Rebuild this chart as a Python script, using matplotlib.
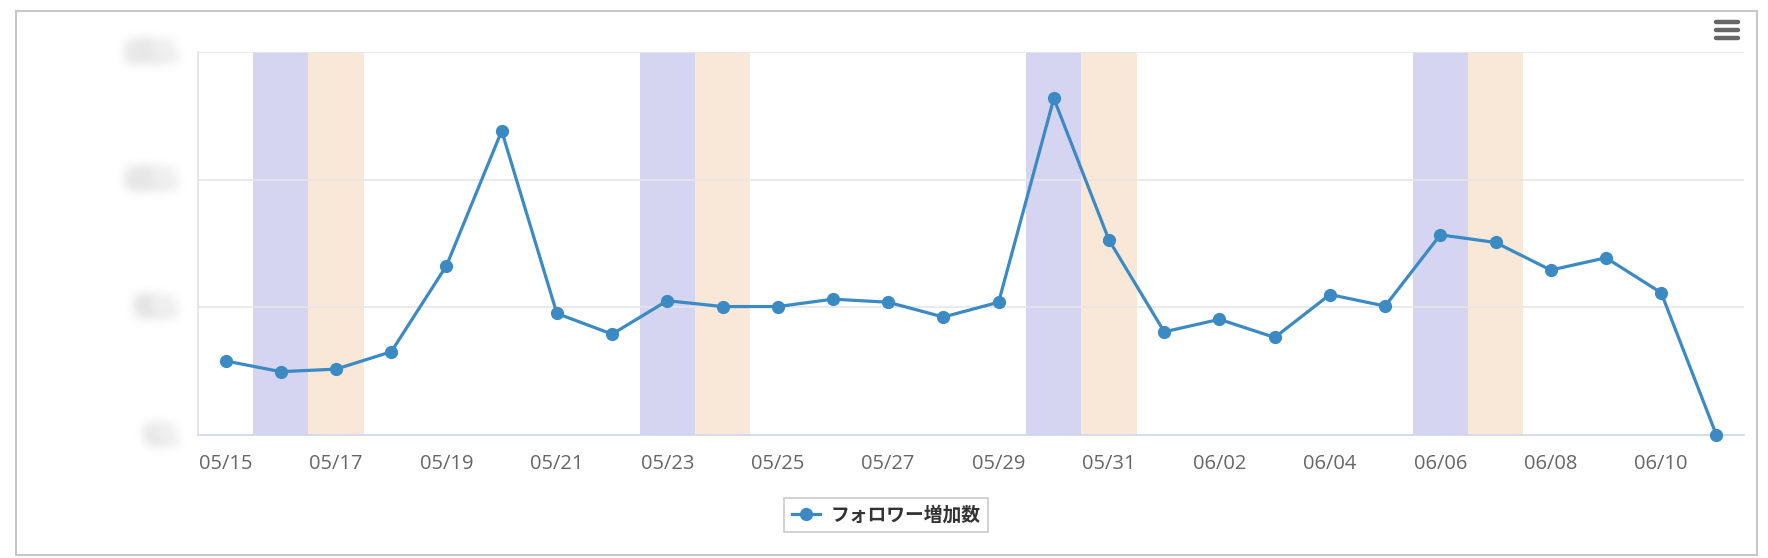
import numpy as np
import matplotlib
matplotlib.use("Agg")
import matplotlib.pyplot as plt
from matplotlib.patches import Rectangle
from matplotlib.lines import Line2D

# ─────────────────────────────────────────
# data
# ─────────────────────────────────────────
dates = ["05/15", "05/16", "05/17", "05/18", "05/19", "05/20", "05/21",
         "05/22", "05/23", "05/24", "05/25", "05/26", "05/27", "05/28",
         "05/29", "05/30", "05/31", "06/01", "06/02", "06/03", "06/04",
         "06/05", "06/06", "06/07", "06/08", "06/09", "06/10", "06/11"]
followers = [29.0, 24.8, 25.8, 32.6, 66.3, 119.1, 47.6,
             39.5, 52.6, 50.3, 50.3, 53.2, 52.0, 46.2,
             52.0, 131.8, 76.3, 40.4, 45.3, 38.2, 55.0,
             50.5, 78.4, 75.4, 64.6, 69.4, 55.7, 0.0]
saturdays = ["05/16", "05/23", "05/30", "06/06"]
sundays = ["05/17", "05/24", "05/31", "06/07"]
y_ticks = [0, 50, 100, 150]
y_labels = ["0人", "50人", "100人", "150人"]
series_name = "フォロワー増加数"

LINE = "#3b8ac3"
SAT = "#d5d4f1"
SUN = "#f9e8d8"
GRID = "#e6e6e6"


def gaussian_blur(sigma_px):
    # agg filter: blur the rendered text so the labels look smudged
    def _filter(im, dpi):
        pad = int(3 * sigma_px) + 1
        src = np.pad(im, [(pad, pad), (pad, pad), (0, 0)], "constant")
        r = np.arange(-pad, pad + 1)
        k = np.exp(-0.5 * (r / sigma_px) ** 2)
        k /= k.sum()
        out = np.apply_along_axis(lambda v: np.convolve(v, k, mode="same"), 0, src)
        out = np.apply_along_axis(lambda v: np.convolve(v, k, mode="same"), 1, out)
        return out, -pad, -pad
    return _filter


fig = plt.figure(figsize=(17.68, 5.58), dpi=100)
fig.patch.set_facecolor("white")
ax = fig.add_axes([198 / 1768, 1 - 435 / 558, (1744 - 198) / 1768, (435 - 52) / 558])

x = np.arange(len(dates))

# weekend bands
for d in saturdays:
    i = dates.index(d)
    ax.axvspan(i - 0.5, i + 0.5, color=SAT, lw=0, zorder=0)
for d in sundays:
    i = dates.index(d)
    ax.axvspan(i - 0.5, i + 0.5, color=SUN, lw=0, zorder=0)

for yv in y_ticks[1:]:
    ax.axhline(yv, color=GRID, lw=1.2, zorder=0.5)

ax.plot(x, followers, "o-", color=LINE, lw=2.3, markersize=8.5,
        label=series_name, zorder=3, clip_on=False)

ax.set_xlim(-0.5, len(dates) - 0.5)
ax.set_ylim(0, 150)
ax.set_xticks(x[::2])
ax.set_xticklabels(dates[::2], family="Open Sans", fontsize=14.5, color="#666666")
ax.tick_params(axis="x", length=0, pad=14)
ax.set_yticks([])

for s in ["top", "right"]:
    ax.spines[s].set_visible(False)
ax.spines["bottom"].set_color("#ccd6eb")
ax.spines["bottom"].set_linewidth(1.2)
ax.spines["left"].set_color("#e0e0ee")
ax.spines["left"].set_linewidth(1.2)

# blurred y labels
for yv, lab in zip(y_ticks, y_labels):
    t = ax.text(-0.9, yv, lab, ha="right", va="center", fontsize=13.5,
                color="#666666", family=["Noto Sans CJK JP", "DejaVu Sans"],
                transform=ax.transData)
    t.set_agg_filter(gaussian_blur(6.5))

leg = ax.legend(loc="center", bbox_to_anchor=(886 / 1768, 1 - 515 / 558),
                bbox_transform=fig.transFigure, frameon=True, fancybox=False,
                edgecolor="#bdbdbd", handlelength=1.5, borderpad=0.42,
                handletextpad=0.55,
                prop={"family": ["Noto Sans CJK JP", "DejaVu Sans"],
                      "weight": "bold", "size": 13.5})
leg.get_frame().set_linewidth(1.2)
for txt in leg.get_texts():
    txt.set_color("#333333")

# outer frame
fig.patches.append(Rectangle((16 / 1768, 3 / 558), 1741 / 1768, 544 / 558,
                             transform=fig.transFigure, fill=False,
                             edgecolor="#c8c8c8", lw=1.5))

# menu icon
for yy in [22, 30, 38]:
    fig.add_artist(Line2D([1716 / 1768, 1738 / 1768], [1 - yy / 558, 1 - yy / 558],
                          color="#666666", lw=3.2, solid_capstyle="round"))

fig.savefig("out.png", dpi=100, facecolor="white")
